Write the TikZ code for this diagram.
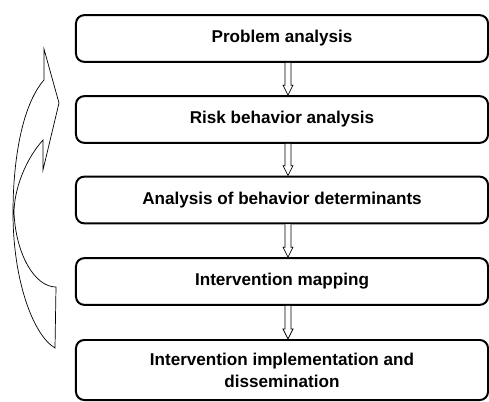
\documentclass[tikz,border=0pt]{standalone}
\usepackage{fontspec}
\setmainfont{Liberation Sans}
\usetikzlibrary{calc}

\begin{document}
\begin{tikzpicture}[x=0.03cm,y=-0.03cm,
    stage/.style={draw,line width=1.7pt,rounded corners=7pt,minimum width=12.36cm,minimum height=1.4cm,align=center,font=\bfseries\fontsize{14.6}{18.8}\selectfont},
    hollow/.style={draw,line width=0.6pt,fill=white,line join=miter}]
  \useasboundingbox (0,0) rectangle (489,401);
  \node[stage] (prob) at (282,38.5) {Problem analysis};
  \node[stage] (risk) at (282,119.5) {Risk behavior analysis};
  \node[stage] (det) at (282,200) {Analysis of behavior determinants};
  \node[stage] (map) at (282,281.5) {Intervention mapping};
  \node[stage,minimum height=1.8cm] (impl) at (282,370) {Intervention implementation and\\dissemination};
  \foreach \a/\b in {prob/risk,risk/det,det/map,map/impl} {
    \coordinate (T) at ($(\a.south)+(6,0)$);
    \coordinate (H) at ($(\b.north)+(6,0)$);
    \draw[hollow] ($(T)+(-3,0)$) -- ($(H)+(-3,-10)$) -- ($(H)+(-5,-10)$) -- (H)
      -- ($(H)+(5,-10)$) -- ($(H)+(3,-10)$) -- ($(T)+(3,0)$);
  }
  % feedback arrow
  \draw[hollow] (55,348) -- (56,287) .. controls (35,287) and (16,255) .. (14,213)
    .. controls (14,190) and (25,160) .. (43,140) -- (43,170) -- (59,103) -- (44,49) -- (44,80)
    .. controls (22,105) and (13,160) .. (13,213) .. controls (13,280) and (33,335) .. (55,348) -- cycle;
\end{tikzpicture}
\end{document}
